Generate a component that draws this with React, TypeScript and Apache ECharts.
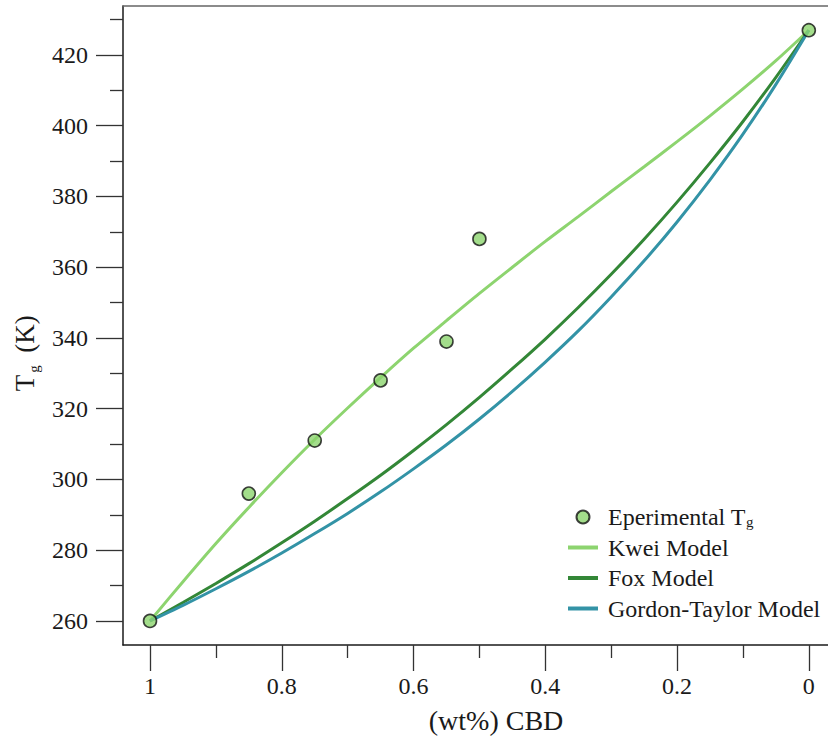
import React, { useEffect, useRef } from 'react';
import * as echarts from 'echarts';

// CBD weight fraction (x) for model curves
const modelW = [0, 0.05, 0.1, 0.15, 0.2, 0.25, 0.3, 0.35, 0.4, 0.45, 0.5, 0.55, 0.6, 0.65, 0.7, 0.75, 0.8, 0.85, 0.9, 0.95, 1];
const kweiT = [427, 418.4, 410.4, 402.8, 395.5, 388.4, 381.4, 374.3, 367.3, 360.0, 352.6, 344.9, 337.1, 328.8, 320.2, 311.3, 301.9, 292.1, 281.9, 271.1, 260];
const foxT = [427, 413.7, 401.2, 389.5, 378.4, 367.9, 358.0, 348.6, 339.7, 331.3, 323.2, 315.5, 308.2, 301.2, 294.6, 288.2, 282.1, 276.2, 270.6, 265.2, 260];
const gtT = [427, 411.7, 397.6, 384.7, 372.8, 361.8, 351.6, 342.0, 333.2, 324.9, 317.1, 309.8, 303.0, 296.5, 290.4, 284.7, 279.2, 274.0, 269.1, 264.4, 260];

// Experimental points
const expW = [1, 0.85, 0.75, 0.65, 0.55, 0.5, 0];
const expT = [260, 296, 311, 328, 339, 368, 427];

// Tick values
const xMajor = [0, 0.2, 0.4, 0.6, 0.8, 1];
const xMinor = [0.1, 0.3, 0.5, 0.7, 0.9];
const yMajor = [260, 280, 300, 320, 340, 360, 380, 400, 420];
const yMinor = [270, 290, 310, 330, 350, 370, 390, 410, 430];

const seriesNames = ['Eperimental Tg', 'Kwei Model', 'Fox Model', 'Gordon-Taylor Model'];

const FONT = 'Liberation Serif, Times New Roman, serif';
const INK = '#1a1a1a';
const C_KWEI = '#8dd46f';
const C_FOX = '#338737';
const C_GT = '#3393a6';
const C_MARK = '#8cd46e';
const LINE_ICON = 'path://M0,0L30,0L30,4L0,4Z';

const X_MIN = -0.0291;
const X_MAX = 1.041;
const Y_MIN = 253.2;
const Y_MAX = 433.85;

export default function App() {
  const ref = useRef<HTMLDivElement>(null);
  useEffect(() => {
    document.body.style.margin = '0';
    const chart = echarts.init(ref.current!, null, { renderer: 'svg' });
    const pairs = (xs: number[], ys: number[]) => xs.map((x, i) => [x, ys[i]]);
    const lineSeries = (name: string, ys: number[], color: string) => ({
      name,
      type: 'line',
      data: pairs(modelW, ys),
      symbol: 'none',
      smooth: 0.3,
      lineStyle: { color, width: 3 },
      itemStyle: { color },
      z: 2,
    });
    const tickStyle = { color: '#333', width: 1.3 };
    chart.setOption({
      animation: false,
      backgroundColor: '#ffffff',
      grid: { left: 123, right: 0, top: 6, bottom: 95, containLabel: false },
      legend: {
        orient: 'vertical',
        left: 563,
        top: 500,
        itemWidth: 30,
        itemHeight: 13,
        itemGap: 6.5,
        data: [
          { name: seriesNames[0], icon: 'circle' },
          { name: seriesNames[1], icon: LINE_ICON },
          { name: seriesNames[2], icon: LINE_ICON },
          { name: seriesNames[3], icon: LINE_ICON },
        ],
        formatter: (name: string) => (name === seriesNames[0] ? 'Eperimental T{sub|g}' : name),
        textStyle: {
          fontFamily: FONT,
          fontSize: 24,
          color: INK,
          padding: [0, 0, 0, 5],
          rich: {
            sub: { fontFamily: FONT, fontSize: 15, color: INK, verticalAlign: 'bottom' },
          },
        },
        selectedMode: false,
      },
      xAxis: [
        {
          type: 'value',
          inverse: true,
          min: X_MIN,
          max: X_MAX,
          position: 'bottom',
          axisLine: { show: true, onZero: false, lineStyle: { color: INK, width: 1.5 } },
          axisTick: { show: true, customValues: xMajor, length: 26, lineStyle: tickStyle },
          axisLabel: {
            show: true,
            customValues: xMajor,
            margin: 29,
            fontFamily: FONT,
            fontSize: 24,
            color: INK,
            formatter: (v: number) => String(Math.round(v * 10) / 10),
          },
          splitLine: { show: false },
        },
        {
          type: 'value',
          inverse: true,
          min: X_MIN,
          max: X_MAX,
          position: 'bottom',
          axisLine: { show: false, onZero: false },
          axisTick: { show: true, customValues: xMinor, length: 13, lineStyle: tickStyle },
          axisLabel: { show: false },
          splitLine: { show: false },
        },
        {
          type: 'value',
          inverse: true,
          min: X_MIN,
          max: X_MAX,
          position: 'top',
          axisLine: { show: true, onZero: false, lineStyle: { color: '#666', width: 1.5 } },
          axisTick: { show: false },
          axisLabel: { show: false },
          splitLine: { show: false },
        },
      ],
      yAxis: [
        {
          type: 'value',
          min: Y_MIN,
          max: Y_MAX,
          position: 'left',
          axisLine: { show: true, onZero: false, lineStyle: { color: INK, width: 1.5 } },
          axisTick: { show: true, customValues: yMajor, length: 27, lineStyle: tickStyle },
          axisLabel: {
            show: true,
            customValues: yMajor,
            margin: 35,
            fontFamily: FONT,
            fontSize: 24,
            color: INK,
          },
          splitLine: { show: false },
        },
        {
          type: 'value',
          min: Y_MIN,
          max: Y_MAX,
          position: 'left',
          axisLine: { show: false, onZero: false },
          axisTick: { show: true, customValues: yMinor, length: 13, lineStyle: tickStyle },
          axisLabel: { show: false },
          splitLine: { show: false },
        },
      ],
      graphic: [
        {
          type: 'text',
          x: 496,
          y: 720,
          style: { text: '(wt%) CBD', fontFamily: FONT, fontSize: 28, fill: INK, align: 'center', verticalAlign: 'middle' },
        },
        {
          type: 'text',
          x: 25,
          y: 383,
          rotation: Math.PI / 2,
          style: { text: 'T', fontFamily: FONT, fontSize: 27, fill: INK, align: 'center', verticalAlign: 'middle' },
        },
        {
          type: 'text',
          x: 34,
          y: 369,
          rotation: Math.PI / 2,
          style: { text: 'g', fontFamily: FONT, fontSize: 15, fill: INK, align: 'center', verticalAlign: 'middle' },
        },
        {
          type: 'text',
          x: 25,
          y: 334,
          rotation: Math.PI / 2,
          style: { text: '(K)', fontFamily: FONT, fontSize: 27, fill: INK, align: 'center', verticalAlign: 'middle' },
        },
      ],
      series: [
        {
          name: seriesNames[0],
          type: 'scatter',
          data: pairs(expW, expT),
          symbol: 'circle',
          symbolSize: 13,
          itemStyle: { color: C_MARK, borderColor: '#111', borderWidth: 1.6 },
          z: 5,
        },
        lineSeries(seriesNames[1], kweiT, C_KWEI),
        lineSeries(seriesNames[2], foxT, C_FOX),
        lineSeries(seriesNames[3], gtT, C_GT),
      ],
    });
    return () => chart.dispose();
  }, []);
  return <div ref={ref} style={{ width: 828, height: 740 }} />;
}
